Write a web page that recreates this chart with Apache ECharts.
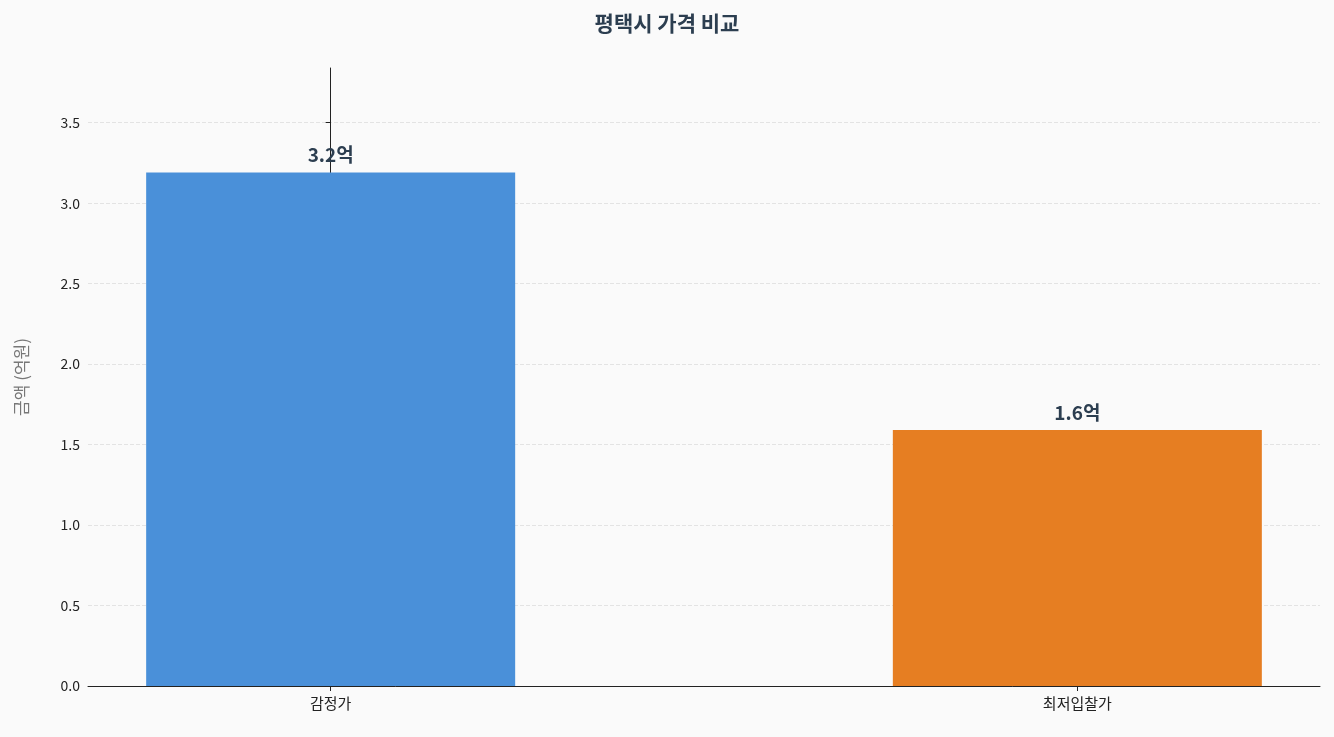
<!DOCTYPE html>
<html><head><meta charset="utf-8">
<script src="https://cdn.jsdelivr.net/npm/echarts@6/dist/echarts.min.js"></script>
<style>html,body{margin:0;background:#fafafa}#c{width:1334px;height:737px}</style>
</head><body><div id="c"></div>
<script>
const categories = ['감정가', '최저입찰가'];
const values = [3.19, 1.59];
const labels = ['3.2억', '1.6억'];
const colors = ['#4a90d9', '#e67e22'];
const yTicks = [0, 0.5, 1, 1.5, 2, 2.5, 3, 3.5];

const chart = echarts.init(document.getElementById('c'));
const font = "'Noto Sans CJK KR','Noto Sans',sans-serif";
chart.setOption({
  backgroundColor: '#fafafa',
  textStyle: {fontFamily: font},
  title: {text: '평택시 가격 비교', left: 'center', top: 8,
    textStyle: {fontSize: 21, fontWeight: 'bold', color: '#2c3e50', fontFamily: font}},
  grid: {left: 88, right: 14, top: 68, bottom: 51},
  xAxis: {type: 'value', min: -0.325, max: 1.325,
    splitLine: {show: false},
    axisLine: {show: true, lineStyle: {color: '#222'}},
    axisTick: {show: true, customValues: [0, 1], lineStyle: {color: '#222'}},
    axisLabel: {customValues: [0, 1], formatter: v => categories[Math.round(v)] || '',
      fontSize: 15, color: '#222', margin: 10}},
  yAxis: {type: 'value', min: 0, max: 3.84,
    name: '금액 (억원)', nameLocation: 'middle', nameGap: 58,
    nameTextStyle: {fontSize: 17, color: '#777'},
    axisLine: {show: true, lineStyle: {color: '#222'}},
    axisTick: {show: true, customValues: yTicks, lineStyle: {color: '#222'}},
    axisLabel: {customValues: yTicks, formatter: v => v.toFixed(1), fontSize: 14, color: '#222'},
    splitLine: {show: true, customValues: yTicks, lineStyle: {type: 'dashed', color: '#e3e3e3'}}},
  series: [{type: 'bar', barWidth: 369,
    data: values.map((v, i) => ({value: [i, v], itemStyle: {color: colors[i]},
      label: {show: true, position: 'top', formatter: labels[i], distance: 8,
        fontSize: 19, fontWeight: 'bold', color: '#2c3e50'}}))}]
});
</script></body></html>
